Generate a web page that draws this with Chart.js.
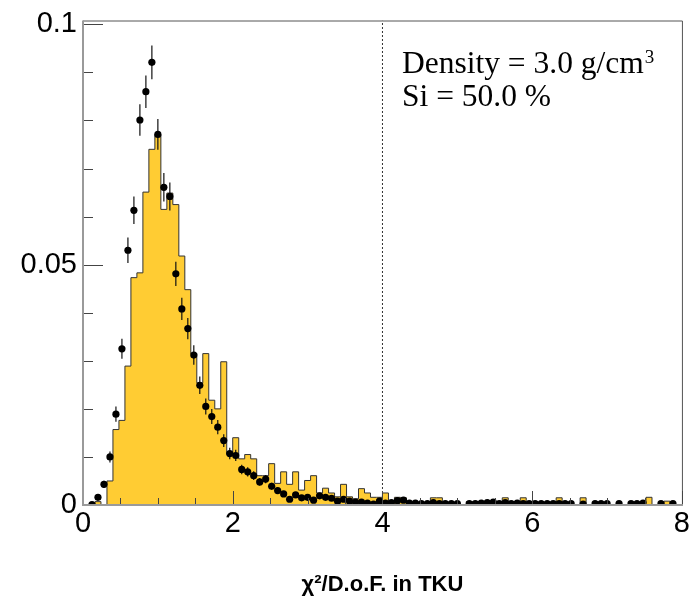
<!DOCTYPE html>
<html>
<head>
<meta charset="utf-8">
<script src="https://cdn.jsdelivr.net/npm/chart.js@4.4.1/dist/chart.umd.min.js"></script>
<style>
  html, body { margin: 0; padding: 0; background: #fff; }
  #chi2-chart { display: block; }
</style>
</head>
<body>
<canvas id="chi2-chart" width="694" height="604"></canvas>
<script>
// chi2/D.o.F. in TKU, 100 bins between 0 and 8
const binLow = 0;
const binHigh = 8;
const nBins = 100;

// simulation (filled histogram), normalised
const mcValues = [
  0, 0, 0.0007, 0, 0.0050, 0.0157, 0.0176, 0.0289, 0.0473, 0.0483,
  0.0651, 0.0740, 0.0771, 0.0615, 0.0649, 0.0625, 0.0518, 0.0448, 0.0315, 0.0254,
  0.0315, 0.0218, 0.0200, 0.0298, 0.0105, 0.0140, 0.0096, 0.0105, 0.0096, 0.0061,
  0.0061, 0.0086, 0.0045, 0.0069, 0.0043, 0.0069, 0.0031, 0.0051, 0.0061, 0.0025,
  0.0035, 0.0025, 0.0017, 0.0043, 0.0017, 0.0013, 0.0034, 0.0025, 0.0016, 0.0016,
  0.0025, 0.0007, 0.0016, 0.0015, 0.0004, 0.0004, 0.0004, 0.0004, 0.0015, 0.0015,
  0.0004, 0.0004, 0.0004, 0, 0.0007, 0.0007, 0.0004, 0.0004, 0.0004, 0.0004,
  0.0015, 0.0004, 0.0004, 0.0015, 0.0004, 0.0004, 0.0004, 0, 0.0004, 0.0015,
  0.0004, 0, 0, 0.0015, 0, 0, 0, 0, 0, 0,
  0, 0, 0, 0.0004, 0.0016, 0, 0, 0.0008, 0, 0
];

// data points (null = empty bin)
const dataValues = [
  null, 0.0001, 0.0016, 0.0043, 0.0100, 0.0189, 0.0325, 0.0530, 0.0613, 0.0801,
  0.0860, 0.0921, 0.0771, 0.0661, 0.0642, 0.0481, 0.0408, 0.0367, 0.0312, 0.0249,
  0.0205, 0.0184, 0.0162, 0.0134, 0.0107, 0.0103, 0.0074, 0.0069, 0.0061, 0.0048,
  0.0054, 0.0039, 0.0030, 0.0023, 0.0012, 0.0021, 0.0015, 0.0016, 0.0010, 0.0019,
  0.0016, 0.0014, 0.0008, 0.0012, 0.0008, 0.0006, 0.0006, 0.0004, 0.0002, 0.0008,
  0.0004, 0.0005, 0.0009, 0.0010, 0.0004, 0.0004, 0.0003, 0.0003, 0.0005, 0.0003,
  0.0003, 0.0003, 0.0003, null, 0.0003, 0.0003, 0.0004, 0.0005, 0.0006, 0.0003,
  0.0005, 0.0003, 0.0004, 0.0003, 0.0003, 0.0003, 0.0003, 0.0003, 0.0003, 0.0003,
  0.0003, 0.0003, null, 0.0002, null, 0.0003, 0.0003, 0.0003, null, 0.0003,
  null, 0.0003, 0.0003, 0.0004, null, null, 0.0003, null, 0.0003, null
];

const dataErrors = [
  0, 0.00012, 0.00046, 0.00076, 0.00115, 0.00159, 0.00208, 0.00265, 0.00286, 0.00326,
  0.00338, 0.0035, 0.0032, 0.00296, 0.00292, 0.00253, 0.00233, 0.00221, 0.00204, 0.00182,
  0.00165, 0.00156, 0.00147, 0.00133, 0.00119, 0.00117, 0.00099, 0.00096, 0.0009, 0.0008,
  0.00085, 0.00072, 0.00063, 0.00055, 0.0004, 0.00053, 0.00045, 0.00046, 0.00036, 0.0005,
  0.00046, 0.00043, 0.00033, 0.0004, 0.00033, 0.00028, 0.00028, 0.00023, 0.00016, 0.00033,
  0.00023, 0.00026, 0.00035, 0.00036, 0.00023, 0.00023, 0.0002, 0.0002, 0.00026, 0.0002,
  0.0002, 0.0002, 0.0002, 0, 0.0002, 0.0002, 0.00023, 0.00026, 0.00028, 0.0002,
  0.00026, 0.0002, 0.00023, 0.0002, 0.0002, 0.0002, 0.0002, 0.0002, 0.0002, 0.0002,
  0.0002, 0.0002, 0, 0.00016, 0, 0.0002, 0.0002, 0.0002, 0, 0.0002,
  0, 0.0002, 0.0002, 0.00023, 0, 0, 0.0002, 0, 0.0002, 0
];

const xMajorTicks = [0, 2, 4, 6, 8];
const yMajorTicks = [0, 0.05, 0.1];
const cutValue = 4;
const yMax = 0.1008;

const binWidth = (binHigh - binLow) / nBins;
const binEdge = k => binLow + k * binWidth;

// step outline: one point per left bin edge, closed at the right end
const mcSteps = mcValues.map((v, k) => ({ x: binEdge(k), y: v }));
mcSteps.push({ x: binHigh, y: mcValues[nBins - 1] });
mcSteps.push({ x: binHigh, y: 0 });

const dataPoints = [];
dataValues.forEach((v, k) => {
    if (v === null) return;
    dataPoints.push({ x: binEdge(k) + binWidth / 2, y: v, err: dataErrors[k] });
});

// vertical error bars, drawn just before the markers
const errorBars = {
    id: 'errorBars',
    beforeDatasetDraw(chart, args) {
        if (chart.data.datasets[args.index].label !== 'Data') return;
        const { ctx, scales: { x, y } } = chart;
        ctx.save();
        ctx.strokeStyle = '#111';
        ctx.lineWidth = 1.2;
        dataPoints.forEach(p => {
            const px = x.getPixelForValue(p.x);
            const lo = y.getPixelForValue(Math.max(p.y - p.err, 0));
            const hi = y.getPixelForValue(p.y + p.err);
            ctx.beginPath();
            ctx.moveTo(px, lo);
            ctx.lineTo(px, hi);
            ctx.stroke();
        });
        ctx.restore();
    }
};

// ROOT style frame with ticks pointing inwards
const rootFrame = {
    id: 'rootFrame',
    afterDatasetsDraw(chart) {
        const { ctx, chartArea: a, scales: { x, y } } = chart;
        ctx.save();
        ctx.strokeStyle = '#555';
        ctx.lineWidth = 1;
        ctx.beginPath();
        ctx.moveTo(a.left, a.top + 0.5);
        ctx.lineTo(a.right + 0.5, a.top + 0.5);
        ctx.lineTo(a.right + 0.5, a.bottom);
        ctx.stroke();

        ctx.strokeStyle = '#444';
        // y ticks
        for (let v = 0; v <= 0.1 + 1e-9; v += 0.01) {
            const py = Math.round(y.getPixelForValue(v)) + 0.5;
            const major = yMajorTicks.some(t => Math.abs(t - v) < 1e-6);
            ctx.beginPath();
            ctx.moveTo(a.left, py);
            ctx.lineTo(a.left + (major ? 20 : 10), py);
            ctx.stroke();
        }
        // x ticks
        for (let v = 0; v <= binHigh + 1e-9; v += 0.5) {
            const px = Math.round(x.getPixelForValue(v)) + 0.5;
            const major = xMajorTicks.some(t => Math.abs(t - v) < 1e-6);
            ctx.beginPath();
            ctx.moveTo(px, a.bottom);
            ctx.lineTo(px, a.bottom - (major ? 14 : 7));
            ctx.stroke();
        }

        // axis lines
        ctx.strokeStyle = '#9a9a9a';
        ctx.lineWidth = 2;
        ctx.beginPath();
        ctx.moveTo(a.left, a.top);
        ctx.lineTo(a.left, a.bottom);
        ctx.lineTo(a.right + 1, a.bottom);
        ctx.stroke();
        ctx.restore();
    }
};

const infoText = {
    id: 'infoText',
    afterDraw(chart) {
        const { ctx } = chart;
        ctx.save();
        ctx.fillStyle = '#000';
        ctx.textBaseline = 'alphabetic';
        ctx.font = '31.5px "Liberation Serif"';
        const line1 = 'Density = 3.0 g/cm';
        ctx.fillText(line1, 402, 73);
        const w = ctx.measureText(line1).width;
        ctx.fillText('Si = 50.0 %', 402, 106);
        ctx.font = '19px "Liberation Serif"';
        ctx.fillText('3', 402 + w + 1, 63);
        ctx.restore();
    }
};

const ctx = document.getElementById('chi2-chart').getContext('2d');
new Chart(ctx, {
    type: 'scatter',
    data: {
        datasets: [
            {
                label: 'Data',
                data: dataPoints,
                pointRadius: 3.6,
                pointBorderWidth: 0,
                pointBackgroundColor: '#000',
                order: 0
            },
            {
                label: 'MC',
                type: 'line',
                data: mcSteps,
                stepped: true,
                showLine: true,
                fill: 'origin',
                backgroundColor: '#ffcc33',
                borderColor: '#333',
                borderWidth: 1,
                pointRadius: 0,
                order: 1
            },
            {
                label: 'cut',
                type: 'line',
                data: [{ x: cutValue, y: 0 }, { x: cutValue, y: yMax }],
                showLine: true,
                borderColor: '#333',
                borderWidth: 1,
                borderDash: [2, 2],
                pointRadius: 0,
                fill: false,
                order: 2
            }
        ]
    },
    options: {
        responsive: false,
        animation: false,
        devicePixelRatio: 1,
        layout: { padding: { top: 14, right: 11, left: 0, bottom: 0 } },
        plugins: {
            legend: { display: false },
            tooltip: { enabled: false }
        },
        scales: {
            x: {
                type: 'linear',
                min: binLow,
                max: binHigh,
                afterFit: s => { s.height = 99; },
                grid: { display: false, drawTicks: false },
                border: { display: false },
                ticks: {
                    stepSize: 2,
                    padding: 4,
                    color: '#000',
                    font: { family: 'Liberation Sans', size: 29, lineHeight: 1 }
                },
                title: {
                    display: true,
                    text: 'χ²/D.o.F. in TKU',
                    color: '#000',
                    padding: { top: 0, bottom: 6 },
                    font: { family: 'Liberation Sans', size: 22, weight: 'bold' }
                }
            },
            y: {
                min: 0,
                max: yMax,
                afterFit: s => { s.width = 83; },
                grid: { display: false, drawTicks: false },
                border: { display: false },
                ticks: {
                    stepSize: 0.05,
                    includeBounds: false,
                    padding: 6,
                    color: '#000',
                    callback: v => String(+v.toFixed(3)),
                    font: { family: 'Liberation Sans', size: 29, lineHeight: 1 }
                }
            }
        }
    },
    plugins: [errorBars, rootFrame, infoText]
});
</script>
</body>
</html>
